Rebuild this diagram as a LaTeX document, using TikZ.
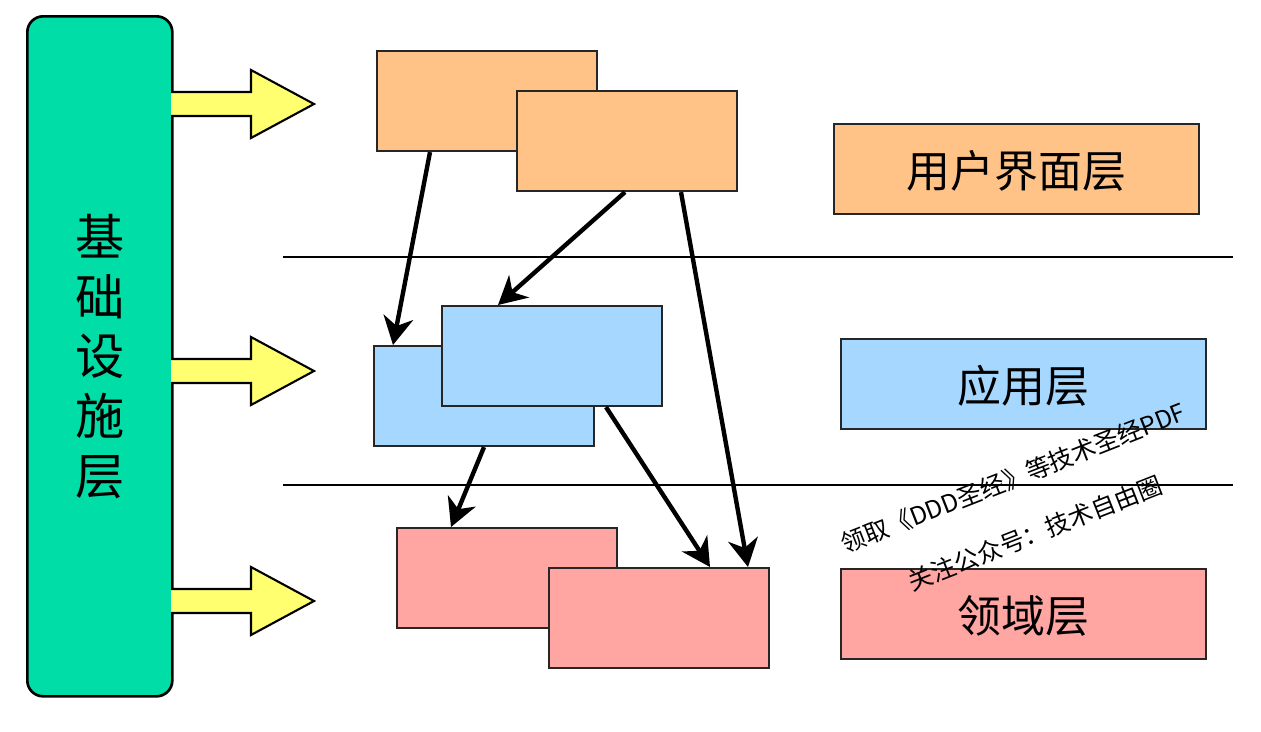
\documentclass[tikz,border=0pt]{standalone}
\usepackage{fontspec}
\setmainfont{Noto Sans CJK SC}
\usetikzlibrary{arrows.meta}
\definecolor{infra}{RGB}{0,221,166}
\definecolor{ui}{RGB}{255,195,136}
\definecolor{app}{RGB}{166,216,255}
\definecolor{dom}{RGB}{255,166,163}
\definecolor{yel}{RGB}{255,255,112}
\tikzset{
  box/.style={draw=black!85, line width=1.2pt, minimum width=220*0.02cm, minimum height=100*0.02cm, inner sep=0pt, anchor=north west},
  label/.style={draw=black!85, line width=1.2pt, minimum width=365*0.02cm, minimum height=90*0.02cm, inner sep=0pt, anchor=north west, font=\fontsize{25pt}{30pt}\selectfont, text depth=-2pt},
  flow/.style={line width=2.5pt, -{Stealth[length=16pt,width=17pt,inset=5pt]}},
  sep/.style={line width=1.1pt},
  fat/.style={draw=black, line width=1.2pt, fill=yel, line join=miter},
  wm/.style={rotate=21.4, font=\fontsize{14pt}{16pt}\selectfont, inner sep=0pt},
}
\begin{document}
\begin{tikzpicture}[x=0.02cm,y=-0.02cm]
\useasboundingbox (0,0) rectangle (1261,731);
% infrastructure
\node[draw=black, line width=1.5pt, fill=infra, rounded corners=9pt, minimum width=145*0.02cm, minimum height=680*0.02cm, inner sep=0pt, anchor=north west, align=center, font=\fontsize{28pt}{34pt}\selectfont] (infra) at (26,15) {基\\础\\设\\施\\层};
% yellow arrows
\foreach \yy/\nm in {104/a1,371/a2,601/a3}{
  \draw[fat] (171,\yy-12) -- (251,\yy-12) -- (251,\yy-34) -- (314,\yy) -- (251,\yy+34) -- (251,\yy+12) -- (171,\yy+12);
  \coordinate (\nm) at (314,\yy);
}
% separators
\coordinate (s1a) at (283,257); \coordinate (s1b) at (1233,257);
\coordinate (s2a) at (283,485); \coordinate (s2b) at (1233,485);
\draw[sep] (s1a) -- (s1b);
\draw[sep] (s2a) -- (s2b);
% UI boxes
\node[box, fill=ui] (u1) at (376,50) {};
\node[box, fill=ui] (u2) at (516,90) {};
% App boxes
\node[box, fill=app] (p1) at (373,345) {};
\node[box, fill=app] (p2) at (441,305) {};
% Domain boxes
\node[box, fill=dom] (d1) at (396,527) {};
\node[box, fill=dom] (d2) at (548,567) {};
% labels
\node[label, fill=ui] (lu) at (833,123) {用户界面层};
\node[label, fill=app] (lp) at (840,338) {应用层};
\node[label, fill=dom] (ld) at (840,568) {领域层};
% connectors
\draw[flow] ([xshift=54*0.02cm]u1.south west) -- ([xshift=20*0.02cm]p1.north west);
\draw[flow] ([xshift=109*0.02cm]u2.south west) -- ([xshift=57*0.02cm]p2.north west);
\draw[flow] ([xshift=165*0.02cm]u2.south west) -- ([xshift=200*0.02cm]d2.north west);
\draw[flow] ([xshift=111*0.02cm]p1.south west) -- ([xshift=55*0.02cm]d1.north west);
\draw[flow] ([xshift=165*0.02cm]p2.south west) -- ([xshift=162*0.02cm]d2.north west);
% watermark
\node[wm] (w1) at (1013,478) {领取《DDD圣经》等技术圣经PDF};
\node[wm] (w2) at (1035,533) {关注公众号：技术自由圈};
\end{tikzpicture}
\end{document}
